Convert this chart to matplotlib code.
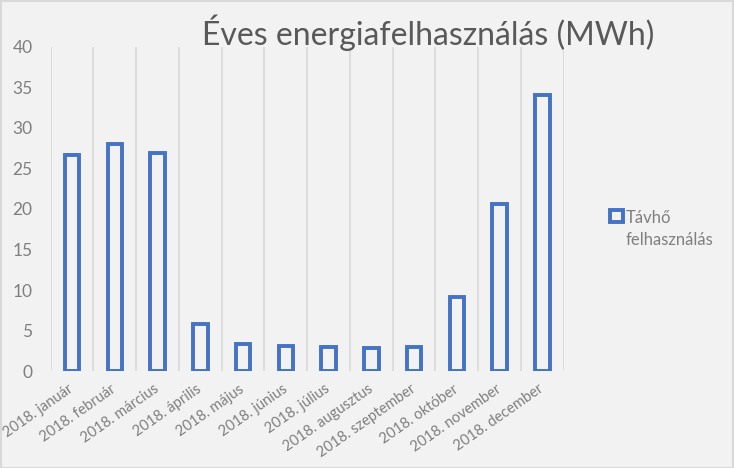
import matplotlib
matplotlib.use("Agg")
import matplotlib.pyplot as plt
import numpy as np

plt.rcParams['font.family'] = ['Lato', 'DejaVu Sans']

# data
months = ['2018. január', '2018. február', '2018. március', '2018. április',
          '2018. május', '2018. június', '2018. július', '2018. augusztus',
          '2018. szeptember', '2018. október', '2018. november', '2018. december']
tavho = [26.7, 28.0, 26.9, 5.8, 3.3, 3.1, 3.0, 2.9, 3.0, 9.1, 20.6, 34.1]
yticks = [0, 5, 10, 15, 20, 25, 30, 35, 40]

blue = '#4472C4'
bg = '#F2F2F2'
txt = '#595959'

fig = plt.figure(figsize=(7.34, 4.68), dpi=100, facecolor=bg)
ax = fig.add_axes([0.069, 0.207, 0.699, 0.693])
ax.set_facecolor(bg)

x = np.arange(len(months))
ax.bar(x, tavho, width=0.34, facecolor=bg, edgecolor=blue, linewidth=2.8,
       label='Távhő\nfelhasználás', zorder=3)

ax.set_xlim(-0.5, len(months) - 0.5)
ax.set_ylim(0, 40)
ax.set_yticks(yticks)
ax.set_xticks(x)
ax.set_xticklabels(months, rotation=35, ha='right', va='center',
                   rotation_mode='anchor', fontsize=10.5, color='#7F7F7F')
ax.set_xticks(np.arange(-0.5, len(months), 1), minor=True)
ax.grid(axis='x', which='minor', color='#D9D9D9', linewidth=1.2, zorder=0)
ax.tick_params(axis='x', which='major', length=0, pad=12)
ax.tick_params(axis='x', which='minor', length=0)
ax.tick_params(axis='y', length=0, pad=13, labelsize=12.5, labelcolor='#7F7F7F')
for s in ax.spines.values():
    s.set_visible(False)

fig.text(0.583, 0.904, 'Éves energiafelhasználás (MWh)', ha='center',
         va='baseline', fontsize=23, color=txt)

leg = ax.legend(loc='upper left', bbox_to_anchor=(0.822, 0.565),
                bbox_transform=fig.transFigure, frameon=False, fontsize=12,
                handlelength=0.75, handleheight=0.75, handletextpad=0.2,
                borderaxespad=0)
for t in leg.get_texts():
    t.set_color('#7F7F7F')
    t.set_linespacing(1.45)
# marker next to the first text line, as in Excel
for col in leg._legend_handle_box.get_children():
    for row in col.get_children():
        row.align = 'top'

# thin border around the chart area
fig.patches.append(plt.Rectangle((0.001, 0.001), 0.997, 0.997,
                                 transform=fig.transFigure, fill=False,
                                 edgecolor='#D9D9D9', linewidth=1.5))

fig.savefig('out.png', dpi=100, facecolor=bg)
